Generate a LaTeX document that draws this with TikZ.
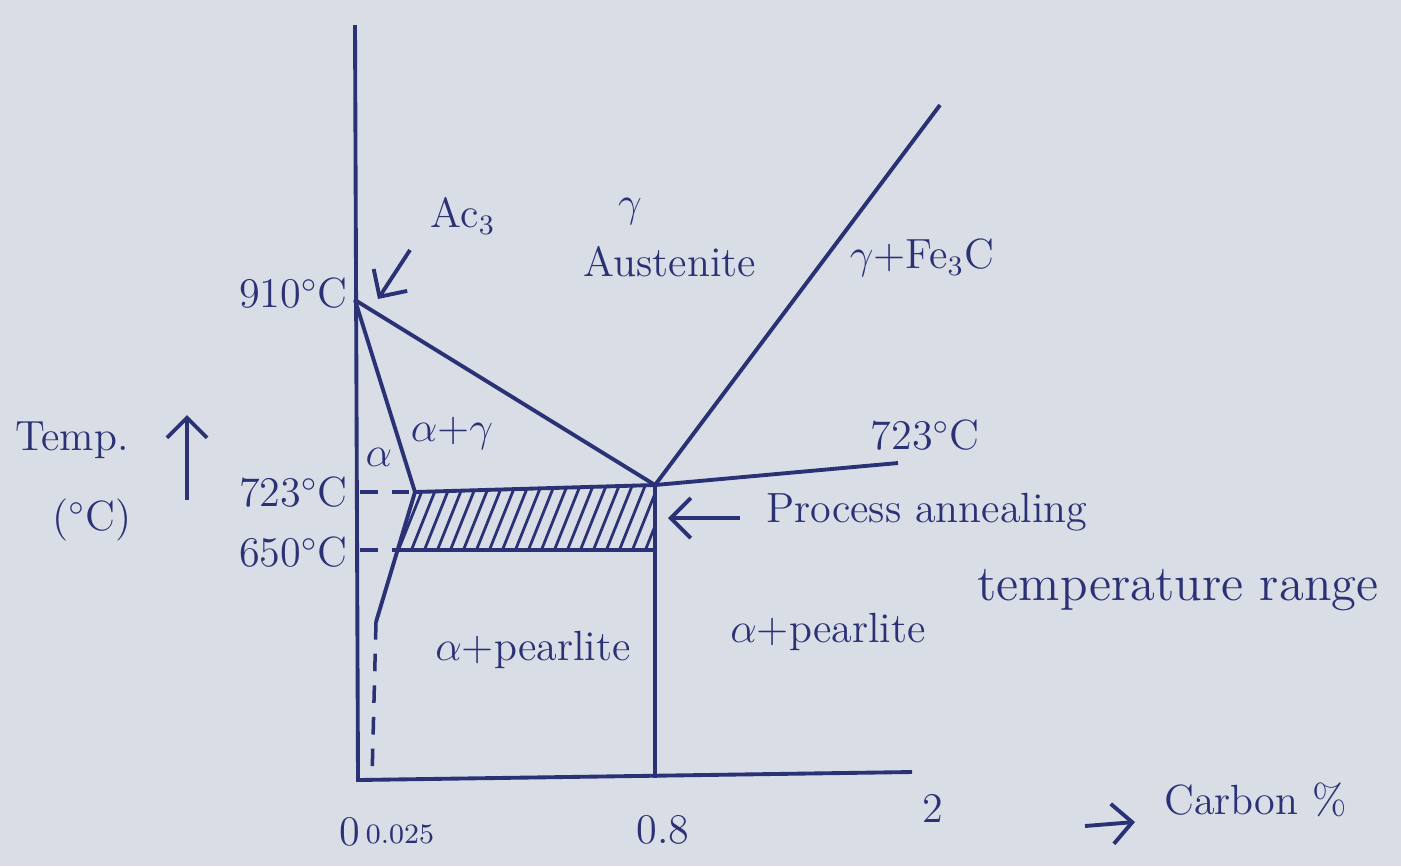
\documentclass[tikz,border=0pt]{standalone}
\usepackage{xcolor}
\usepackage{tikz}
\usetikzlibrary{arrows.meta,positioning}
\definecolor{ink}{HTML}{2B3175}
\definecolor{paper}{HTML}{D8DDE6}

\begin{document}
\begin{tikzpicture}[
    x=0.01cm, y=-0.01cm,
    phase/.style={text=ink, font=\large, inner sep=1pt},
    line/.style={draw=ink, line width=1.1pt},
    guide/.style={draw=ink, line width=1pt, dash pattern=on 5pt off 4pt},
    arrow/.style={-{Straight Barb[length=2mm]}, draw=ink, line width=1.1pt}
  ]
    \fill[paper] (0,0) rectangle (1401,866);
    \useasboundingbox (0,0) rectangle (1401,866);
    % points of the diagram
    \coordinate (ytop) at (355,25);
    \coordinate (origin) at (358,780);
    \coordinate (xend) at (912,772);
    \coordinate (g910) at (355,300);
    \coordinate (a723) at (415,492);
    \coordinate (eut) at (655,485);
    \coordinate (cm) at (940,105);
    \coordinate (r723) at (898,463);
    \coordinate (a650) at (398,550);
    \coordinate (e650) at (655,550);
    \coordinate (abot) at (376,622);
    \coordinate (adash) at (372,778);
    \coordinate (eutbot) at (655,778);
    \coordinate (y723) at (360,492);
    \coordinate (y650) at (360,550);
    % hatched range
    \begin{scope}
      \clip (a723) -- (eut) -- (e650) -- (a650) -- cycle;
      \foreach \x in {370,383,...,670}
        \draw[ink, line width=0.8pt] (\x,556) -- ++(28,-70);
    \end{scope}
    \draw[line] (ytop) -- (origin) -- (xend);
    \draw[line] (g910) -- (eut) -- (cm);
    \draw[line] (g910) -- (a723) -- (abot);
    \draw[line] (a723) -- (eut) -- (r723);
    \draw[line] (a650) -- (e650);
    \draw[line] (eut) -- (eutbot);
    \draw[guide] (abot) -- (adash);
    \draw[guide] (y723) -- (a723);
    \draw[guide] (y650) -- (a650);
    % labels
    \node[phase, anchor=east] (t910) at (352,293) {910$^\circ$C};
    \node[phase] (ac3) at (463,216) {Ac$_3$};
    \coordinate (ac3from) at (410,250);
    \coordinate (ac3to) at (378,299);
    \draw[arrow] (ac3from) -- (ac3to);
    \node[phase] (gamma) at (630,212) {$\gamma$};
    \node[phase] (aust) at (670,262) {Austenite};
    \node[phase] (gfe) at (922,258) {$\gamma$+Fe$_3$C};
    \node[phase] (ag) at (452,433) {$\alpha$+$\gamma$};
    \node[phase] (alpha) at (379,457) {$\alpha$};
    \node[phase, anchor=east] (t723) at (352,492) {723$^\circ$C};
    \node[phase, anchor=east] (t650) at (352,552) {650$^\circ$C};
    \node[phase] (r723l) at (925,435) {723$^\circ$C};
    \node[phase] (temp) at (72,440) {Temp.};
    \node[phase] (unit) at (92,520) {($^\circ$C)};
    \coordinate (tlow) at (187,500);
    \coordinate (thigh) at (187,415);
    \draw[arrow] (tlow) -- (thigh);
    \node[phase, anchor=west] (proc) at (762,512) {Process annealing};
    \coordinate (procfrom) at (740,518);
    \coordinate (procend) at (668,518);
    \draw[arrow] (procfrom) -- (procend);
    \node[phase, font=\Large] (range) at (1178,590) {temperature range};
    \node[phase] (ap1) at (533,650) {$\alpha$+pearlite};
    \node[phase] (ap2) at (828,632) {$\alpha$+pearlite};
    \node[phase] (x0) at (350,832) {0};
    \node[phase, font=\footnotesize] (x025) at (400,834) {0.025};
    \node[phase] (x08) at (663,830) {0.8};
    \node[phase] (x2) at (933,808) {2};
    \node[phase, anchor=west] (carbon) at (1160,800) {Carbon \%};
    \coordinate (cstart) at (1085,826);
    \coordinate (cend) at (1135,822);
    \draw[arrow] (cstart) -- (cend);
\end{tikzpicture}
\end{document}
